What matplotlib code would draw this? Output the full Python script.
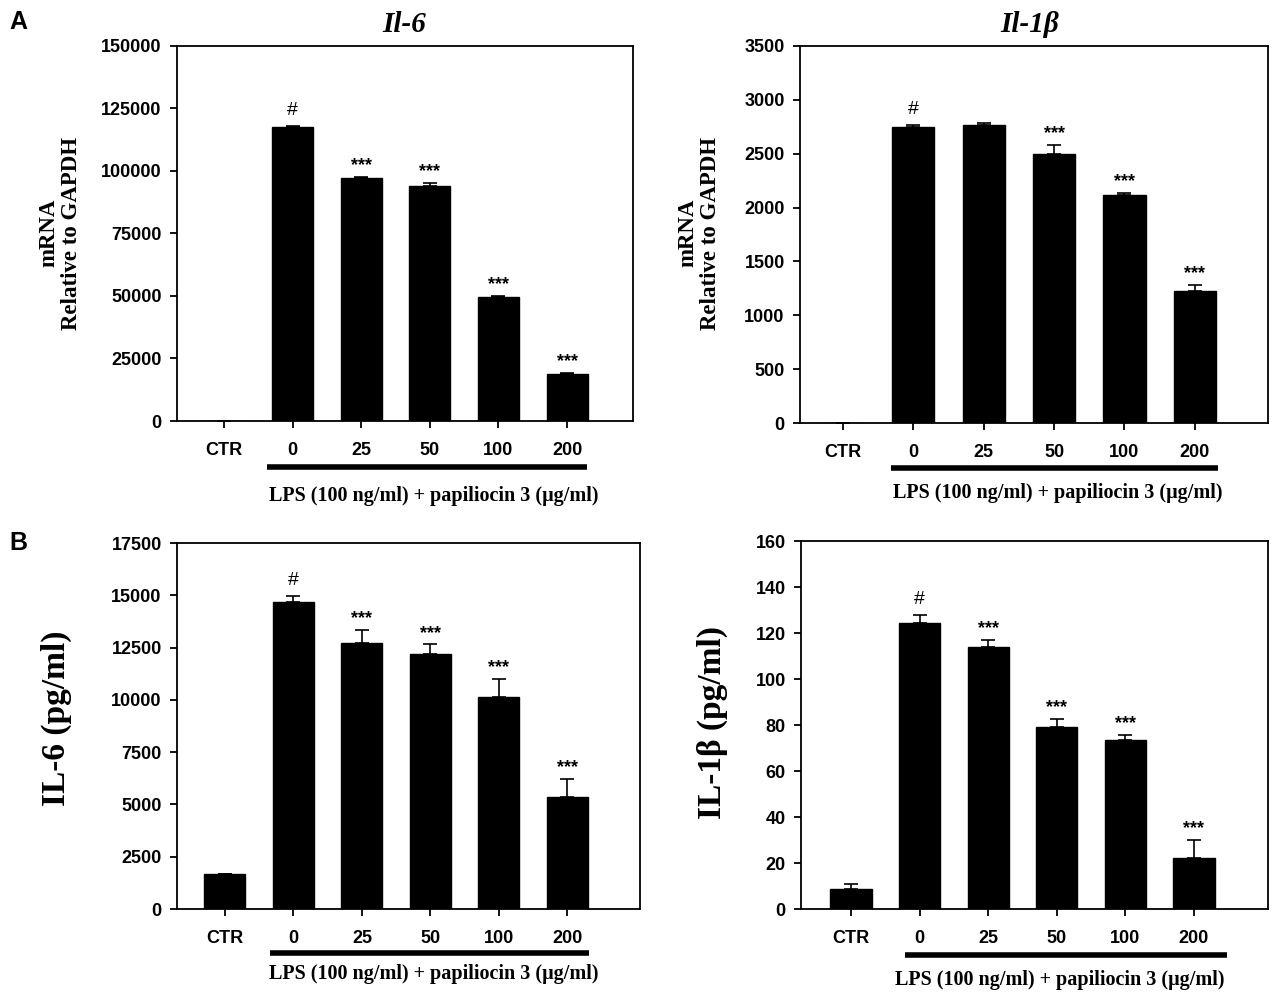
# Papiliocin 3 - Il-6 / Il-1b mRNA (A) e proteína (B)
import numpy as np
import matplotlib
matplotlib.use('Agg')
import matplotlib.pyplot as plt

W, H = 1287, 997

categories = ['CTR', '0', '25', '50', '100', '200']

# A: mRNA relativo ao GAPDH
il6_mrna = [0, 117500, 97000, 94000, 49500, 18800]
il6_mrna_err = [0, 500, 600, 1300, 500, 500]
il6_mrna_marks = ['', '#', '***', '***', '***', '***']

il1b_mrna = [0, 2750, 2770, 2500, 2120, 1230]
il1b_mrna_err = [0, 15, 15, 85, 12, 50]
il1b_mrna_marks = ['', '#', '', '***', '***', '***']

# B: proteína (pg/ml)
il6_prot = [1650, 14700, 12700, 12200, 10150, 5350]
il6_prot_err = [0, 250, 650, 450, 850, 850]
il6_prot_marks = ['', '#', '***', '***', '***', '***']

il1b_prot = [8.5, 124.5, 114, 79, 73.5, 22]
il1b_prot_err = [2.5, 3.5, 3, 3.5, 2, 8]
il1b_prot_marks = ['', '#', '***', '***', '***', '***']

lps_label = 'LPS (100 ng/ml) + papiliocin 3 (\u03bcg/ml)'

sans = 'Liberation Sans'
serif = 'Liberation Serif'

fig = plt.figure(figsize=(W / 100, H / 100), dpi=100)


def add_axes_px(l, t, r, b):
    return fig.add_axes([l / W, 1 - b / H, (r - l) / W, (b - t) / H])


def fig_text(x, y, s, **kw):
    fig.text(x / W, 1 - y / H, s, **kw)


def draw_panel(rect, xlim, values, errs, marks, ymax, ystep, line_x, line_y, text_y):
    ax = add_axes_px(*rect)
    x = np.arange(len(categories))
    ax.bar(x, values, width=0.6, color='black', edgecolor='black', zorder=2)
    ax.errorbar(x, values, yerr=[np.zeros(len(errs)), errs], fmt='none', ecolor='black',
                elinewidth=1.2, capsize=5, capthick=1.2, zorder=3)
    for xi, v, e, m in zip(x, values, errs, marks):
        if m:
            if m == '#':
                ax.annotate(m, (xi, v + e), xytext=(0, 5), textcoords='offset points',
                            ha='center', va='bottom', fontsize=14, family=sans)
            else:
                ax.annotate(m, (xi, v + e), xytext=(0, 2), textcoords='offset points',
                            ha='center', va='bottom', fontsize=13, fontweight='bold', family=sans)
    ax.set_xlim(*xlim)
    ax.set_ylim(0, ymax)
    yt = np.arange(0, ymax + ystep / 2, ystep)
    ax.set_yticks(yt)
    ax.set_yticklabels([str(int(t)) for t in yt])
    ax.set_xticks(x)
    ax.set_xticklabels(categories)
    for lab in ax.get_xticklabels() + ax.get_yticklabels():
        lab.set_fontfamily(sans)
        lab.set_fontweight('bold')
        lab.set_fontsize(13)
    ax.tick_params(direction='out', length=5, width=1.3, pad=6)
    ax.tick_params(axis='x', pad=10)
    for sp in ax.spines.values():
        sp.set_linewidth(1.3)
    # linha horizontal sob os tratamentos com LPS
    trans = ax.get_xaxis_transform()
    hpx = rect[3] - rect[1]
    ax.plot(line_x, [-line_y / hpx] * 2, color='black', lw=4, transform=trans, clip_on=False,
            solid_capstyle='butt')
    ax.text(3.05, -text_y / hpx, lps_label, transform=trans, ha='center', va='center',
            fontsize=14.5, fontweight='bold', family=serif)
    return ax


# Painel A esquerdo: Il-6
draw_panel((177, 46, 633, 421), (-0.685, 5.96), il6_mrna, il6_mrna_err, il6_mrna_marks,
           150000, 25000, (0.62, 5.29), 46, 75)
fig_text(404, 25, 'Il-6', ha='center', va='center', fontsize=21, fontweight='bold',
         style='italic', family=serif)
fig_text(60, 233, 'mRNA\nRelative to GAPDH', rotation=90, ha='center', va='center',
         fontsize=16.5, fontweight='bold', family=serif, linespacing=1.1)

# Painel A direito: Il-1b
draw_panel((800, 46, 1268, 423), (-0.61, 6.04), il1b_mrna, il1b_mrna_err, il1b_mrna_marks,
           3500, 500, (0.69, 5.33), 45, 70)
fig_text(1030, 25, 'Il-1\u03b2', ha='center', va='center', fontsize=21, fontweight='bold',
         style='italic', family=serif)
fig_text(699, 233, 'mRNA\nRelative to GAPDH', rotation=90, ha='center', va='center',
         fontsize=16.5, fontweight='bold', family=serif, linespacing=1.1)

# Painel B esquerdo: IL-6
draw_panel((177, 543, 640, 909), (-0.70, 6.06), il6_prot, il6_prot_err, il6_prot_marks,
           17500, 2500, (0.66, 5.32), 44, 65)
fig_text(56, 718, 'IL-6 (pg/ml)', rotation=90, ha='center', va='center',
         fontsize=24, fontweight='bold', family=serif)

# Painel B direito: IL-1b
draw_panel((801, 541, 1268, 909), (-0.73, 6.08), il1b_prot, il1b_prot_err, il1b_prot_marks,
           160, 20, (0.78, 5.48), 46, 71)
fig_text(712, 722, 'IL-1\u03b2 (pg/ml)', rotation=90, ha='center', va='center',
         fontsize=24, fontweight='bold', family=serif)

# letras dos painéis
fig_text(18, 22, 'A', ha='center', va='center', fontsize=18, fontweight='bold', family=sans)
fig_text(18, 543, 'B', ha='center', va='center', fontsize=18, fontweight='bold', family=sans)

fig.savefig('out.png', dpi=100, facecolor='white')
